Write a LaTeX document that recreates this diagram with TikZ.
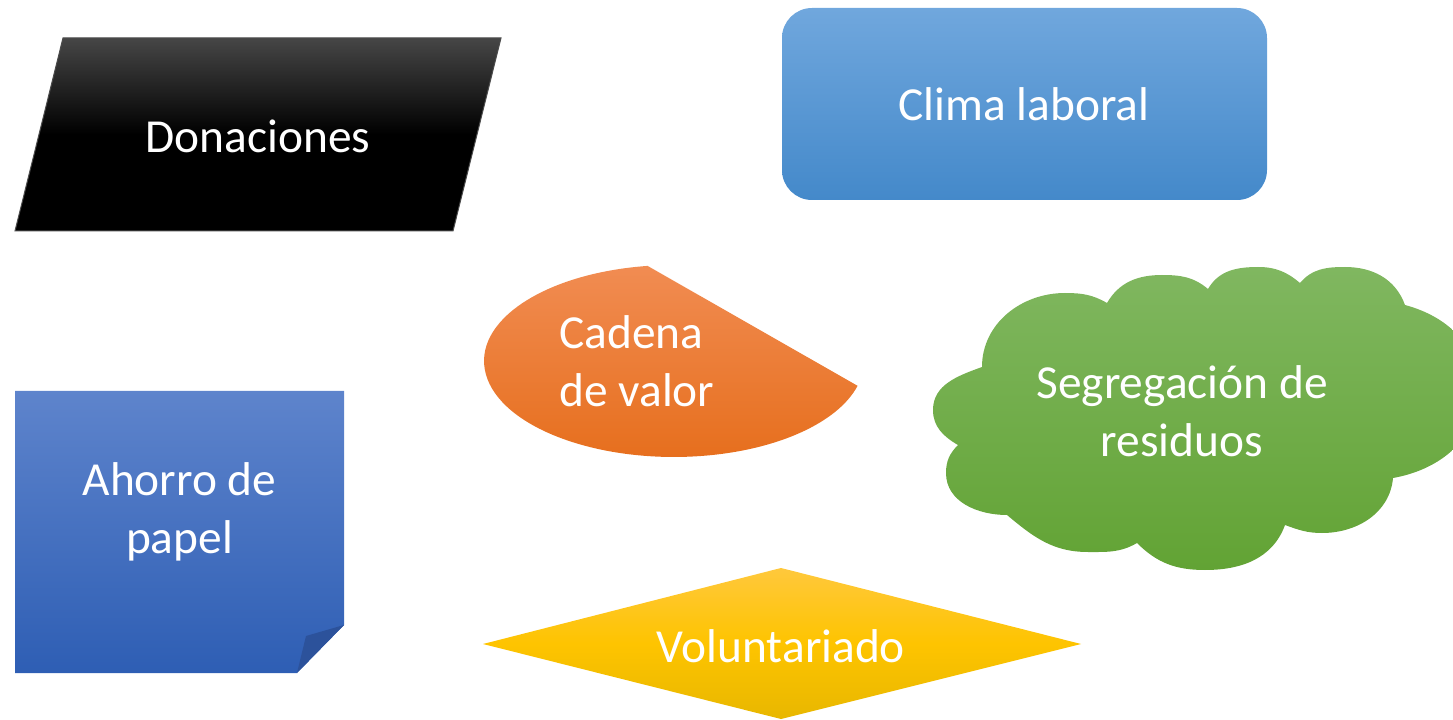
\documentclass[tikz,border=0pt]{standalone}
\usepackage{fontspec}
\setmainfont{Carlito}
\usepackage{tikz}

\definecolor{donTop}{RGB}{70,70,70}
\definecolor{climaTop}{RGB}{112,167,221}
\definecolor{climaBot}{RGB}{68,137,202}
\definecolor{cadTop}{RGB}{241,140,82}
\definecolor{cadBot}{RGB}{230,110,28}
\definecolor{segTop}{RGB}{128,183,96}
\definecolor{segBot}{RGB}{98,163,52}
\definecolor{noteTop}{RGB}{94,132,204}
\definecolor{noteBot}{RGB}{46,94,180}
\definecolor{noteFold}{RGB}{44,82,155}
\definecolor{volTop}{RGB}{255,200,60}
\definecolor{volMid}{RGB}{254,196,0}
\definecolor{volBot}{RGB}{232,183,0}

\begin{document}
\begin{tikzpicture}[x=0.5pt, y=0.5pt,
    lbl/.style={text=white, inner sep=0pt, align=center,
      font=\fontsize{23.7}{29}\selectfont}]
  \clip (0,0) rectangle (1453,719);

  \shade[top color=donTop, bottom color=black, middle color=black,
    draw=black!70, line width=0.5pt]
    (63,681) -- (501,681) -- (453,488) -- (15,488) -- cycle;
  \node[lbl] (don) at (258,583) {Donaciones};

  \shade[top color=climaTop, bottom color=climaBot, rounded corners=15pt]
    (782,519) rectangle (1267,711);
  \node[lbl] (clima) at (1024,615) {Clima laboral};

  \shade[top color=cadTop, bottom color=cadBot]
    (647.6,453.1) arc[start angle=98, end angle=345, x radius=95pt, y radius=48pt] -- cycle;
  \node[lbl, align=left, anchor=west] (cadena) at (559,358) {Cadena\\de valor};

  \shade[top color=segTop, bottom color=segBot]
    (982,352) to[out=90,in=180] (1065,426) to[out=0,in=150] (1107,416)
    to[out=60,in=180] (1162,444) to[out=0,in=140] (1208,430)
    to[out=60,in=180] (1258,452) to[out=0,in=140] (1300,436)
    to[out=50,in=180] (1345,452) to[out=0,in=110] (1405,414)
    to[out=-15,in=90] (1479,329) to[out=-90,in=10] (1393,241)
    to[out=-95,in=0] (1322,186) to[out=180,in=-20] (1285,194)
    to[out=-110,in=0] (1205,149) to[out=180,in=-45] (1137,176)
    to[out=-150,in=0] (1088,167) to[out=180,in=-40] (1007,204)
    to[out=180,in=-90] (946,246) to[out=90,in=-135] (958,274)
    to[out=150,in=-90] (933,309) to[out=90,in=200] (982,352) -- cycle;
  \node[lbl] (seg) at (1182,308) {Segregación de\\residuos};

  \shade[top color=noteTop, bottom color=noteBot]
    (15,328) -- (344,328) -- (344,94) -- (297,46) -- (15,46) -- cycle;
  \fill[noteFold] (344,94) -- (306,83) -- (297,46) -- cycle;
  \node[lbl] (ahorro) at (179.5,207) {Ahorro de\\papel};

  \shade[top color=volTop, bottom color=volBot, middle color=volMid]
    (483,75) -- (781,151) -- (1081,75) -- (781,0) -- cycle;
  \node[lbl] (vol) at (781,73) {Voluntariado};
\end{tikzpicture}
\end{document}
